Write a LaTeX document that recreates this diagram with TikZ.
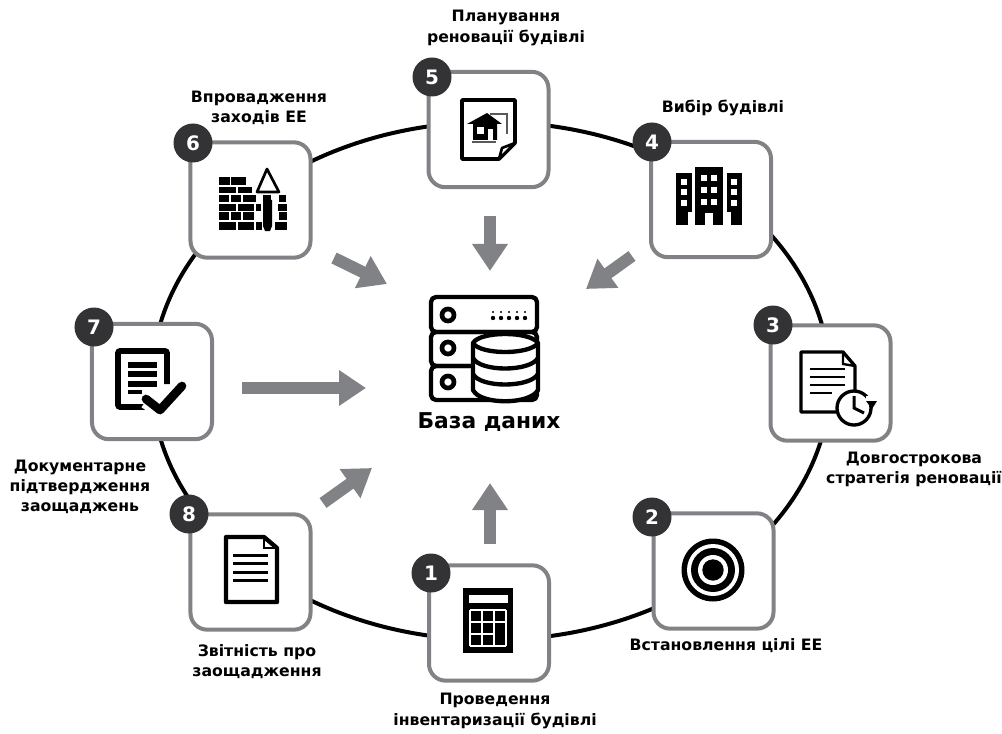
\documentclass[tikz,border=0pt]{standalone}
\usepackage{fontspec}
\setmainfont{DejaVu Sans}
\usetikzlibrary{arrows.meta}
\definecolor{boxgray}{HTML}{808285}
\definecolor{badgegray}{HTML}{333335}
\tikzset{
  stepbox/.style={draw=boxgray, line width=0.12cm, fill=white, rounded corners=0.5cm, minimum width=3.6cm, minimum height=3.46cm, inner sep=0pt},
  badge/.style={circle, fill=badgegray, text=white, font=\fontsize{17}{17}\selectfont\bfseries, minimum size=1.17cm, inner sep=0pt},
  caption/.style={align=center, font=\fontsize{13.4}{17.2}\selectfont\bfseries, inner sep=0pt},
  flowarrow/.style={draw=boxgray, line width=0.36cm, -{Triangle[length=0.81cm,width=1.02cm]}},
  thinline/.style={line width=0.13cm, line join=round}
}

\begin{document}
\begin{tikzpicture}[x=0.03cm,y=-0.03cm]
  \useasboundingbox (0,0) rectangle (1002,734);

  % кільце
  \draw[line width=0.12cm] (491,381) ellipse [x radius=339, y radius=259];

  % картки
  \node[stepbox] (box1) at (489,623) {};
  \node[stepbox] (box2) at (713.5,571) {};
  \node[stepbox] (box3) at (830.5,383) {};
  \node[stepbox] (box4) at (711,199.5) {};
  \node[stepbox] (box5) at (488.5,129.5) {};
  \node[stepbox] (box6) at (250.5,200) {};
  \node[stepbox] (box7) at (152,381.5) {};
  \node[stepbox] (box8) at (250.5,572) {};

  % номери
  \node[badge] (num1) at (431,573) {1};
  \node[badge] (num2) at (652,517) {2};
  \node[badge] (num3) at (773,325) {3};
  \node[badge] (num4) at (652,142) {4};
  \node[badge] (num5) at (432,77) {5};
  \node[badge] (num6) at (193,143) {6};
  \node[badge] (num7) at (94,327) {7};
  \node[badge] (num8) at (189,514) {8};

  % підписи
  \node[caption] (text1) at (495,711) {Проведення\\інвентаризації будівлі};
  \node[caption] (text2) at (726,646) {Встановлення цілі ЕЕ};
  \node[caption] (text3) at (914,469) {Довгострокова\\стратегія реновації};
  \node[caption] (text4) at (723,108) {Вибір будівлі};
  \node[caption] (text5) at (506,28) {Планування\\реновації будівлі};
  \node[caption] (text6) at (259,108) {Впровадження\\заходів ЕЕ};
  \node[caption] (text7) at (80,487) {Документарне\\підтвердження\\заощаджень};
  \node[caption] (text8) at (257,662) {Звітність про\\заощадження};
  \node[font=\fontsize{18.6}{22}\selectfont\bfseries, inner sep=0pt] (dbtext) at (489,422) {База даних};

  % стрілки
  \coordinate (tail1) at (490,544);
  \coordinate (head1) at (490,483);
  \coordinate (tail4) at (632,256);
  \coordinate (head4) at (586,289);
  \coordinate (tail5) at (490,216);
  \coordinate (head5) at (490,271);
  \coordinate (tail6) at (334,258);
  \coordinate (head6) at (387,284);
  \coordinate (tail7) at (242,388);
  \coordinate (head7) at (366,388);
  \coordinate (tail8) at (323,503);
  \coordinate (head8) at (372,468);
  \foreach \i in {1,4,5,6,7,8}
    \draw[flowarrow] (tail\i) -- (head\i);

  % база даних
  \foreach \ya/\yb in {297/332,332/366,366/400}
    \draw[thinline, rounded corners=0.15cm] (431,\ya) rectangle (537,\yb);
  \foreach \ya in {315,348,382}
    \draw[line width=0.14cm] (448,\ya) circle [radius=6];
  \foreach \xa in {493,501,509,517,525} {
    \fill (\xa,312) circle [radius=1.1];
    \fill (\xa,318) circle [radius=2.2];
  }
  \draw[thinline, fill=white] (473,343) -- (473,390) .. controls (480,405) and (530,405) .. (538,390) -- (538,343) .. controls (530,331) and (480,331) .. (473,343) -- cycle;
  \draw[thinline] (473,343) .. controls (480,355) and (530,355) .. (538,343);
  \draw[thinline] (473,358) .. controls (480,372) and (530,372) .. (538,358);
  \draw[thinline] (473,374) .. controls (480,388) and (530,388) .. (538,374);

  % калькулятор
  \fill (463,588) rectangle (513,653);
  \fill[white] (469,595) rectangle (508,603);
  \foreach \xa in {470,482,494,506}
    \draw[white, line width=0.04cm] (\xa,610) -- (\xa,646);
  \foreach \ya in {610,622,646}
    \draw[white, line width=0.04cm] (470,\ya) -- (506,\ya);
  \draw[white, line width=0.04cm] (470,634) -- (494,634);

  % мішень
  \fill (713,570) circle [radius=31.5];
  \fill[white] (713,570) circle [radius=26];
  \fill (713,570) circle [radius=22];
  \fill[white] (713,570) circle [radius=15];
  \fill (713,570) circle [radius=10.7];

  % документ з годинником
  \draw[line width=0.1cm, line join=round] (846,412) -- (801,412) -- (801,352) -- (843,352) -- (855,366) -- (855,392);
  \draw[line width=0.07cm] (843,352) -- (843,364) -- (855,366);
  \foreach \ya/\xb in {369/845,377/845,385/845,393/832}
    \draw[line width=0.08cm] (810,\ya) -- (\xb,\ya);
  \draw[line width=0.1cm, fill=white] (854,408) circle [radius=17];
  \draw[line width=0.09cm] (854,396) -- (854,408) -- (864,413);
  \fill[white] (866,396) rectangle (876,404);
  \fill (866,401) -- (877,401) -- (872,409) -- cycle;

  % будинки
  \fill (695,167) rectangle (723,225);
  \fill (676,173) rectangle (692,225);
  \fill (727,173) rectangle (742,225);
  \foreach \xa in {704,714}
    \foreach \ya in {178,190,202}
      \fill[white] (\xa-3,\ya-3) rectangle (\xa+3,\ya+3);
  \foreach \xa in {684,734}
    \foreach \ya in {182,192,203}
      \fill[white] (\xa-3,\ya-3) rectangle (\xa+3,\ya+3);
  \fill[white] (705,213) rectangle (713,225);
  \fill[white] (688,212) -- (692,212) -- (692,225) -- (688,225) -- cycle;
  \fill[white] (727,212) -- (731,212) -- (731,225) -- (727,225) -- cycle;

  % план будинку
  \draw[line width=0.11cm, line join=round] (499,159) -- (462,159) -- (462,100) -- (515,100) -- (515,143) -- cycle;
  \draw[line width=0.08cm, fill=white, line join=round] (499,159) -- (502,148) -- (515,143) -- cycle;
  \draw[black!65, line width=0.05cm] (490,114) -- (507,114) -- (507,134);
  \draw[black!65, line width=0.05cm] (472,142) -- (496,142);
  \fill (467,124) -- (487,113) -- (502,124) -- (497,124) -- (497,140) -- (473,140) -- (473,124) -- cycle;
  \fill[white] (477,127) rectangle (484,134);
  \fill[white] (488,129) rectangle (493,140);

  % цегла
  \foreach \xa/\xb/\ya/\yb in {
    219/230/177/185, 231/246/177/185,
    219/236/187/193, 238/252/187/193,
    219/229/195/202, 231/241/195/202, 243/256/195/202, 279/286/195/202,
    219/236/204/211, 238/254/204/211, 256/261/204/211, 278/287/204/211,
    219/229/212/220, 231/241/212/220, 243/254/212/220, 279/287/212/220,
    219/236/222/230, 238/254/222/230, 256/262/222/230, 275/287/222/230}
    \fill (\xa,\ya) rectangle (\xb,\yb);
  % кельма
  \draw[line width=0.08cm, line join=round] (267,169) -- (257,192) -- (279,192) -- cycle;
  \fill (263,195) rectangle (271,200);
  \fill (263,200) -- (272,200) -- (272,226) -- (270,231) -- (265,231) -- (263,226) -- cycle;

  % документ з галочкою
  \draw[line width=0.17cm, rounded corners=0.06cm] (167,384) -- (167,351) -- (118,351) -- (118,407) -- (145,407);
  \foreach \ya in {365,374,384}
    \draw[line width=0.2cm] (128,\ya) -- (157,\ya);
  \draw[line width=0.12cm] (128,392) -- (142,392);
  \draw[white, line width=0.38cm, line join=round] (145,402) -- (160,412) -- (183,385);
  \draw[line width=0.26cm, line join=round, line cap=round] (146,399) -- (160,410) -- (182,386);

  % документ
  \draw[line width=0.13cm, line join=round] (226,537) -- (264,537) -- (277,548) -- (277,602) -- (226,602) -- cycle;
  \draw[line width=0.07cm] (264,537) -- (264,548) -- (277,548);
  \foreach \ya in {555,563,572,580}
    \draw[line width=0.09cm] (233,\ya) -- (268,\ya);
\end{tikzpicture}
\end{document}
